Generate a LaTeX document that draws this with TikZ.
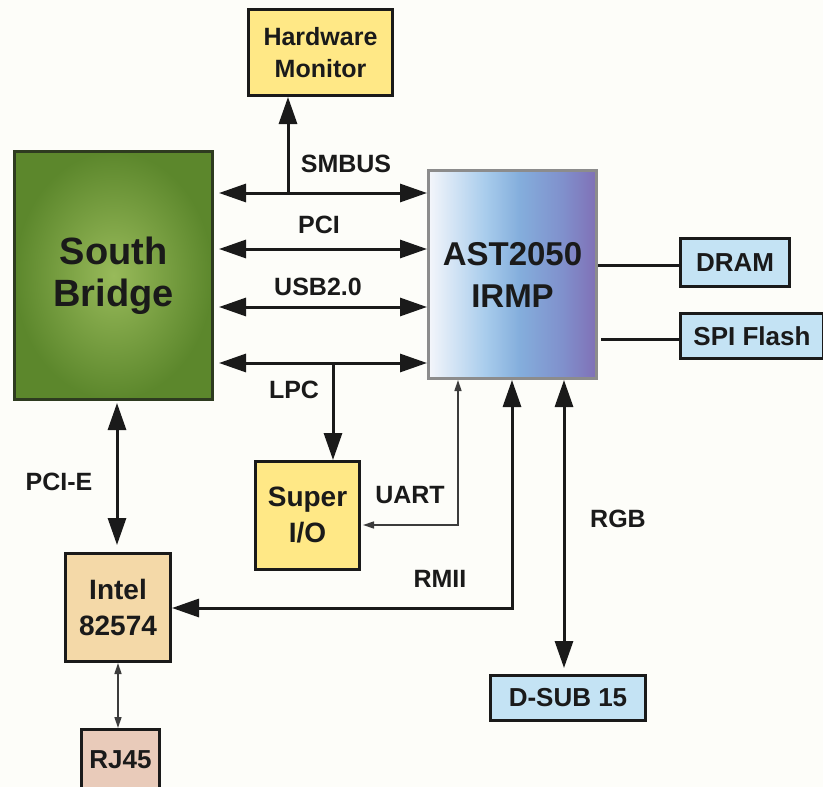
\documentclass[tikz,border=0pt]{standalone}
\usepackage{fontspec}
\setmainfont{Liberation Sans}
\usetikzlibrary{arrows.meta}
\definecolor{bgc}{HTML}{FDFDF9}
\definecolor{ink}{HTML}{1A1A1A}
\definecolor{yel}{HTML}{FFE886}
\definecolor{tan}{HTML}{F4D9A8}
\definecolor{pink}{HTML}{E9CBBA}
\definecolor{lblue}{HTML}{C4E3F4}
\definecolor{sbin}{HTML}{98BA5A}
\definecolor{sbout}{HTML}{5C872C}
\definecolor{sbdraw}{HTML}{2E3B20}
\definecolor{astA}{HTML}{F4F6FB}
\definecolor{astB}{HTML}{A8CCEC}
\definecolor{astC}{HTML}{84AEDC}
\definecolor{astD}{HTML}{8090CC}
\definecolor{astE}{HTML}{8070B6}
\pgfdeclarehorizontalshading{astshade}{100bp}{color(0bp)=(astA); color(25bp)=(astA); color(42bp)=(astB); color(52bp)=(astC); color(65bp)=(astD); color(75bp)=(astE); color(100bp)=(astE)}
\tikzset{
  bighead/.tip={Triangle[length=27pt,width=18pt]},
  smallhead/.tip={Triangle[length=11pt,width=7pt]},
  box/.style={draw=ink, line width=3pt, inner sep=0pt, align=center, text=ink, font=\bfseries\fontsize{26}{32}\selectfont},
  lbl/.style={anchor=base, inner sep=0pt, text=ink, font=\bfseries\fontsize{25}{30}\selectfont},
  bus/.style={draw=ink, line width=3pt, bighead-bighead},
  busone/.style={draw=ink, line width=3pt, -bighead},
  thinbus/.style={draw=ink!85, line width=1.5pt, smallhead-smallhead},
  plain/.style={draw=ink, line width=3pt}
}
\begin{document}
\begin{tikzpicture}[x=1pt,y=-1pt]
\useasboundingbox (0,0) rectangle (823,787);
\fill[bgc] (0,0) rectangle (823,787);

% boxes
\node[box, fill=yel, minimum width=144pt, minimum height=86pt, font=\bfseries\fontsize{25}{32}\selectfont] (hw) at (320.5,52.5) {Hardware\\Monitor};
\node[box, draw=sbdraw, shading=radial, inner color=sbin, outer color=sbout, minimum width=198pt, minimum height=248pt, font=\bfseries\fontsize{38}{42}\selectfont] (sb) at (113.5,275.5) {South\\Bridge};
\node[box, draw=black!45, shading=astshade, minimum width=168pt, minimum height=208pt, font=\bfseries\fontsize{33}{42}\selectfont] (ast) at (512.5,274.5) {AST2050\\IRMP};
\node[box, fill=lblue, minimum width=109pt, minimum height=48pt] (dram) at (735,262.5) {DRAM};
\node[box, fill=lblue, minimum width=143pt, minimum height=45pt] (spi) at (752,336) {SPI Flash};
\node[box, fill=yel, minimum width=104pt, minimum height=108pt, font=\bfseries\fontsize{28}{36}\selectfont] (sio) at (307.5,515.5) {Super\\I/O};
\node[box, fill=tan, minimum width=105pt, minimum height=108pt, font=\bfseries\fontsize{28}{36}\selectfont] (intel) at (118,607.5) {Intel\\82574};
\node[box, fill=pink, minimum width=78pt, minimum height=61pt] (rj) at (120.5,760) {RJ45};
\node[box, fill=lblue, minimum width=155pt, minimum height=45pt] (dsub) at (568,698) {D-SUB 15};

% coordinates
\coordinate (ysm) at (0,193);
\coordinate (ypci) at (0,249);
\coordinate (yusb) at (0,307);
\coordinate (ylpc) at (0,363);
\coordinate (smbj) at (288,193);
\coordinate (lpcj) at (333,363);
\coordinate (uart) at (458,525);
\coordinate (rmii) at (512,608);
\coordinate (rgb) at (564,0);
\coordinate (pcie) at (117,0);
\coordinate (ydram) at (0,265);
\coordinate (yspi) at (0,339);

% buses
\draw[bus, shorten <=5pt] (sb.east |- ysm) -- (ast.west |- ysm);
\draw[bus, shorten <=5pt] (sb.east |- ypci) -- (ast.west |- ypci);
\draw[bus, shorten <=5pt] (sb.east |- yusb) -- (ast.west |- yusb);
\draw[bus, shorten <=5pt] (sb.east |- ylpc) -- (ast.west |- ylpc);
\draw[busone] (smbj) -- (smbj |- hw.south);
\draw[busone] (lpcj) -- (lpcj |- sio.north);
\draw[thinbus, shorten >=2pt] (uart |- ast.south) -- (uart) -- (uart -| sio.east);
\draw[bus] (rmii |- ast.south) -- (rmii) -- (rmii -| intel.east);
\draw[bus, shorten >=6pt] (rgb |- ast.south) -- (rgb |- dsub.north);
\draw[bus, shorten <=2pt, shorten >=7pt] (pcie |- sb.south) -- (pcie |- intel.north);
\draw[thinbus] (intel.south) -- (intel.south |- rj.north);
\draw[plain] (ast.east |- ydram) -- (dram.west |- ydram);
\draw[plain, shorten <=3pt] (ast.east |- yspi) -- (spi.west |- yspi);

% labels
\node[lbl] (lsm) at (346,172) {SMBUS};
\node[lbl] (lpci) at (319,233) {PCI};
\node[lbl] (lusb) at (318,295) {USB2.0};
\node[lbl] (llpc) at (294,398) {LPC};
\node[lbl] (lpcie) at (59,490) {PCI-E};
\node[lbl] (luart) at (410,503) {UART};
\node[lbl] (lrmii) at (440,587) {RMII};
\node[lbl] (lrgb) at (618,527) {RGB};
\end{tikzpicture}
\end{document}
